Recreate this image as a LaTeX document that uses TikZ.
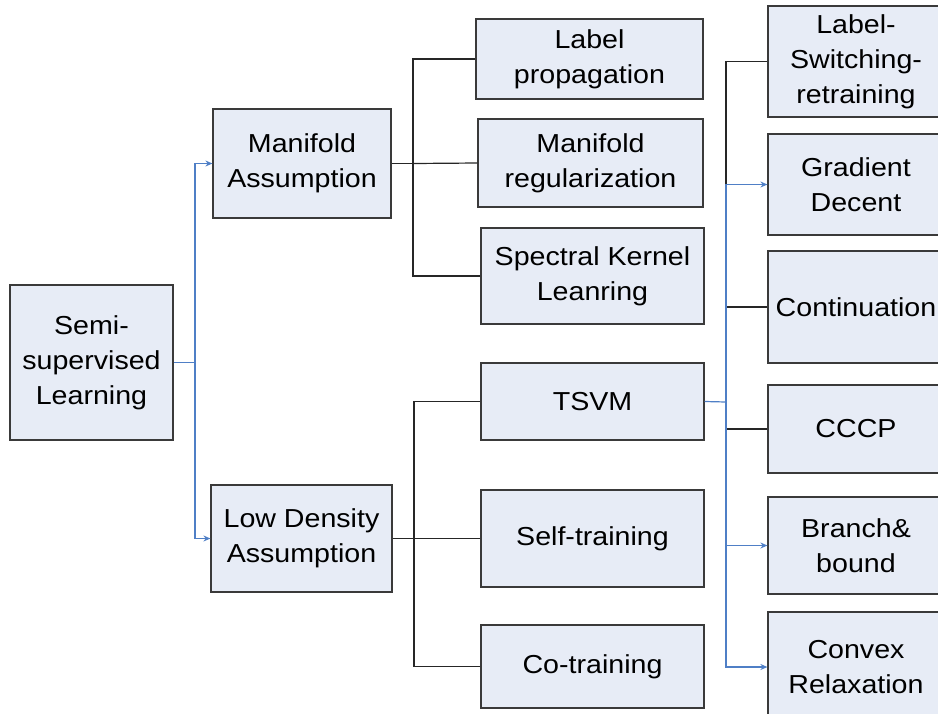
\documentclass[tikz,border=0pt]{standalone}
\usepackage{fontspec}
\newfontfamily\boxfont[FakeStretch=1.1]{Liberation Sans}
\usetikzlibrary{arrows.meta}
\definecolor{boxfill}{HTML}{E7ECF6}
\definecolor{boxline}{HTML}{3A3A3A}
\definecolor{linkblue}{HTML}{4F7FC6}
\tikzset{
  box/.style={draw=boxline, line width=1.2pt, fill=boxfill, align=center, inner sep=0pt,
    font=\boxfont\fontsize{26}{35}\selectfont},
  blk/.style={draw=black!85, line width=1.2pt},
  blu/.style={draw=linkblue, line width=1.2pt},
  barrow/.style={blu, -{Stealth[length=7pt,width=6pt]}}
}
\begin{document}
\begin{tikzpicture}[x=1pt,y=-1pt]
\useasboundingbox (0,0) rectangle (938,713);
\clip (0,0) rectangle (938,713);
% boxes
\node[box, minimum width=163pt, minimum height=155pt] (semi) at (91.5,362.5) {Semi-\\supervised\\Learning};
\node[box, minimum width=178pt, minimum height=109pt] (man) at (302,163.5) {Manifold\\Assumption};
\node[box, minimum width=181pt, minimum height=107pt] (low) at (301.5,538.5) {Low Density\\Assumption};
\node[box, minimum width=227pt, minimum height=80pt] (lp) at (589.5,59) {Label\\propagation};
\node[box, minimum width=225pt, minimum height=88pt] (mr) at (590.5,163) {Manifold\\regularization};
\node[box, minimum width=223pt, minimum height=96pt] (sk) at (592.5,276) {Spectral Kernel\\Leanring};
\node[box, minimum width=223pt, minimum height=77pt] (tsvm) at (592.5,401.5) {TSVM};
\node[box, minimum width=223pt, minimum height=97pt] (self) at (592.5,538.5) {Self-training};
\node[box, minimum width=223pt, minimum height=83pt] (co) at (592.5,666.5) {Co-training};
\node[box, minimum width=176pt, minimum height=111pt] (lsr) at (856,61.5) {Label-\\Switching-\\retraining};
\node[box, minimum width=176pt, minimum height=101pt] (gd) at (856,184.5) {Gradient\\Decent};
\node[box, minimum width=176pt, minimum height=112pt] (cont) at (856,307) {Continuation};
\node[box, minimum width=176pt, minimum height=88pt] (cccp) at (856,429) {CCCP};
\node[box, minimum width=176pt, minimum height=97pt] (bb) at (856,545.5) {Branch\&\\bound};
\node[box, minimum width=176pt, minimum height=110pt] (cr) at (856,667) {Convex\\Relaxation};
% junction coordinates
\coordinate (j1) at (195,362.5);
\coordinate (j2) at (413,163.5);
\coordinate (j3) at (414,538.5);
\coordinate (j4) at (726,402);
\coordinate (j4t) at (726,184.5);
% root links
\draw[blu] (semi.east) -- (j1);
\draw[barrow] (j1) |- (man.west);
\draw[barrow] (j1) |- (low.west);
% manifold links
\draw[blk] (man.east) -- (j2);
\draw[blk] (j2) |- (lp.west);
\draw[blk] (j2) -- (mr.west);
\draw[blk] (j2) |- (sk.west);
% low density links
\draw[blk] (low.east) -- (j3);
\draw[blk] (j3) |- (tsvm.west);
\draw[blk] (j3) -- (self.west);
\draw[blk] (j3) |- (co.west);
% tsvm links
\draw[blk] (j4t) |- (lsr.west);
\draw[blk] (j4t |- cont.west) -- (cont.west);
\draw[blk] (j4t |- cccp.west) -- (cccp.west);
\draw[blu] (tsvm.east) -- (j4);
\draw[barrow] (j4) |- (gd.west);
\draw[barrow] (j4) |- (bb.west);
\draw[barrow] (j4) |- (cr.west);
\end{tikzpicture}
\end{document}
